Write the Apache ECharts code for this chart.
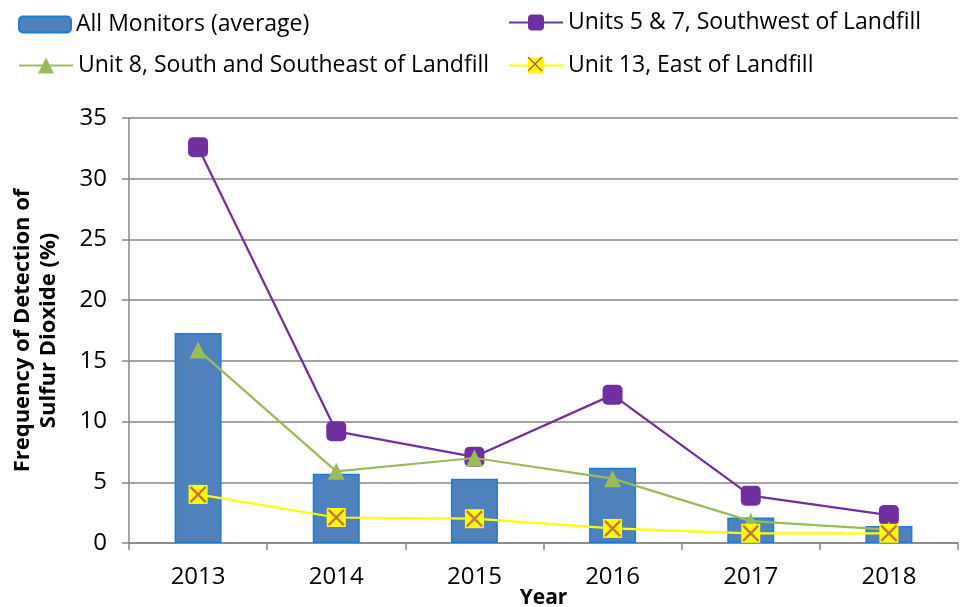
<!DOCTYPE html>
<html>
<head>
<meta charset="utf-8">
<script src="https://cdn.jsdelivr.net/npm/echarts@6/dist/echarts.min.js"></script>
<style>
  html, body { margin: 0; padding: 0; background: #fff; }
  #chart { width: 961px; height: 607px; }
</style>
</head>
<body>
<div id="chart"></div>
<script>
// values
const years = ['2013', '2014', '2015', '2016', '2017', '2018'];
const allMonitors = [17.3, 5.7, 5.3, 6.2, 2.1, 1.4];
const units5and7 = [32.6, 9.2, 7.1, 12.2, 3.9, 2.3];
const unit8 = [15.9, 5.9, 7.0, 5.3, 1.8, 1.1];
const unit13 = [4.0, 2.1, 2.0, 1.2, 0.8, 0.8];

const FONT = 'Open Sans';
const xMark = 'path://M0,1L1,0L10,9L9,10Z M9,0L10,1L1,10L0,9Z';

const myChart = echarts.init(document.getElementById('chart'));

function oneLegend(name, left, top, w, h) {
  return {
    data: [name],
    left: left,
    top: top,
    padding: 0,
    itemWidth: w,
    itemHeight: h,
    itemGap: 6,
    selectedMode: false,
    textStyle: {fontFamily: FONT, fontSize: 23, color: '#000'},
  };
}

const option = {
  animation: false,
  legend: [
    oneLegend('All Monitors (average)', 18, 13, 52, 16),
    oneLegend('Units 5 & 7, Southwest of Landfill', 508, 11, 54, 20),
    oneLegend('Unit 8, South and Southeast of Landfill', 18, 54, 54, 20),
    oneLegend('Unit 13, East of Landfill', 508, 54, 54, 20),
  ],
  // red cross on the legend's yellow marker, like the chart's markers
  graphic: [
    {type: 'line', shape: {x1: 528, y1: 57, x2: 542, y2: 71}, style: {stroke: '#C0504D', lineWidth: 1.5}, z: 100},
    {type: 'line', shape: {x1: 542, y1: 57, x2: 528, y2: 71}, style: {stroke: '#C0504D', lineWidth: 1.5}, z: 100},
  ],
  grid: {left: 129, right: 3, top: 118, bottom: 64, outerBoundsMode: 'none'},
  xAxis: {
    type: 'category',
    data: years,
    name: 'Year',
    nameLocation: 'middle',
    nameGap: 45,
    nameMoveOverlap: false,
    nameTextStyle: {fontFamily: FONT, fontSize: 21, fontWeight: 'bold', color: '#000'},
    axisLine: {lineStyle: {color: '#868686', width: 1.5}},
    axisTick: {show: true, length: 7, lineStyle: {color: '#868686', width: 1.5}},
    axisLabel: {fontFamily: FONT, fontSize: 24, color: '#000', margin: 22},
  },
  yAxis: {
    type: 'value',
    min: 0,
    max: 35,
    interval: 5,
    name: 'Frequency of Detection of\nSulfur Dioxide (%)',
    nameLocation: 'middle',
    nameGap: 67,
    nameMoveOverlap: false,
    nameTextStyle: {fontFamily: FONT, fontSize: 22, fontWeight: 'bold', color: '#000', lineHeight: 26},
    axisLine: {show: true, lineStyle: {color: '#868686', width: 1.5}},
    axisTick: {show: true, length: 7, lineStyle: {color: '#868686', width: 1.5}},
    axisLabel: {fontFamily: FONT, fontSize: 24, color: '#000', margin: 22},
    splitLine: {lineStyle: {color: '#868686', width: 1.5}},
  },
  series: [
    {
      name: 'All Monitors (average)',
      type: 'bar',
      data: allMonitors,
      barWidth: 47,
      itemStyle: {color: '#4F81BD', borderColor: '#1C7DD6', borderWidth: 1.5},
      z: 1,
    },
    {
      name: 'Units 5 & 7, Southwest of Landfill',
      type: 'line',
      data: units5and7,
      symbol: 'roundRect',
      symbolSize: 20,
      lineStyle: {color: '#7030A0', width: 2.25},
      itemStyle: {color: '#7030A0'},
      z: 3,
    },
    {
      name: 'Unit 8, South and Southeast of Landfill',
      type: 'line',
      data: unit8,
      symbol: 'triangle',
      symbolSize: 17,
      lineStyle: {color: '#9BBB59', width: 2.25},
      itemStyle: {color: '#9BBB59'},
      z: 4,
    },
    {
      name: 'Unit 13, East of Landfill',
      type: 'line',
      data: unit13,
      symbol: 'rect',
      symbolSize: 19,
      lineStyle: {color: '#FFFF00', width: 2.25},
      itemStyle: {color: '#FFFF00'},
      z: 5,
    },
    {
      name: 'unit13cross',
      type: 'scatter',
      data: unit13,
      symbol: xMark,
      symbolSize: 17,
      itemStyle: {color: '#C0504D'},
      silent: true,
      z: 6,
    },
  ],
};

myChart.setOption(option);
</script>
</body>
</html>
